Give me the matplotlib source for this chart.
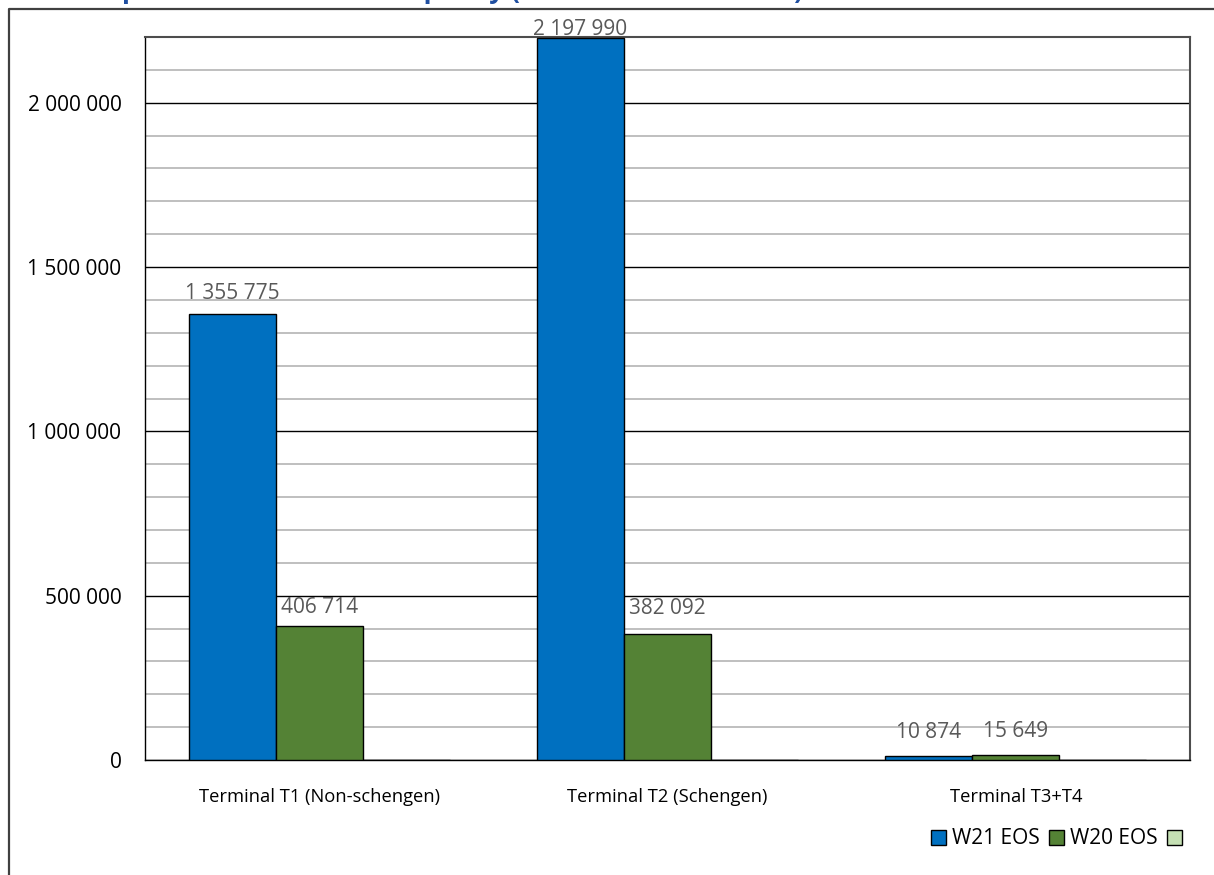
import matplotlib
matplotlib.use("Agg")
import matplotlib.pyplot as plt
import numpy as np
from matplotlib.patches import Patch
from matplotlib.lines import Line2D
from matplotlib.ticker import MultipleLocator, FuncFormatter

# ---- data -------------------------------------------------------------
categories = ["Terminal T1 (Non-schengen)", "Terminal T2 (Schengen)", "Terminal T3+T4"]
w21_eos = [1355775, 2197990, 10874]
w20_eos = [406714, 382092, 15649]
third_series = [0, 0, 0]
series_names = ["W21 EOS", "W20 EOS", ""]
title = "Comparison of total seat capacity (W21 EOS vs. W20 EOS)"

# ---- style ------------------------------------------------------------
colors = ["#0070C0", "#548235", "#C5E0B4"]
label_gap_px = [[15, 3, 18], [13, 20, 18]]   # label gap above each bar

plt.rcParams['font.family'] = ['Open Sans', 'DejaVu Sans']

W, H = 1214, 875
fig = plt.figure(figsize=(W / 100, H / 100), dpi=100)
ax = fig.add_axes([145 / W, 115 / H, 1045 / W, 723 / H])

x = np.arange(len(categories))
width = 0.25
all_series = [w21_eos, w20_eos, third_series]
for i, (vals, c) in enumerate(zip(all_series, colors)):
    bars = ax.bar(x + (i - 1) * width, vals, width, color=c,
                  edgecolor='black', linewidth=1, zorder=3)
    if i < 2:
        for j, (b, v) in enumerate(zip(bars, vals)):
            ax.annotate(f"{v:,}".replace(",", " "),
                        (b.get_x() + b.get_width() / 2, v),
                        xytext=(0, label_gap_px[i][j] * 0.72),
                        textcoords='offset points', ha='center', va='baseline',
                        fontsize=15, color='#595959', zorder=4)

ax.set_xlim(-0.5, len(categories) - 0.5)
ax.set_ylim(0, 2200000)
ax.yaxis.set_major_locator(MultipleLocator(500000))
ax.yaxis.set_minor_locator(MultipleLocator(100000))
ax.yaxis.set_major_formatter(FuncFormatter(lambda v, p: f"{int(v):,}".replace(",", " ")))
ax.grid(which='major', axis='y', color='black', linewidth=1.0, zorder=1)
ax.grid(which='minor', axis='y', color='#BFBFBF', linewidth=1.4, zorder=0)
ax.set_axisbelow(True)

ax.set_xticks(x)
ax.set_xticklabels(categories, fontsize=13.2)
ax.tick_params(axis='x', length=0, pad=20)
ax.tick_params(axis='y', which='both', length=0, pad=17, labelsize=15)

for side in ['left', 'bottom']:
    ax.spines[side].set_color('black')
    ax.spines[side].set_linewidth(1.0)
for side in ['top', 'right']:
    ax.spines[side].set_color('#4D4D4D')
    ax.spines[side].set_linewidth(1.5)

handles = [Patch(facecolor=c, edgecolor='black', linewidth=1) for c in colors]
fig.legend(handles, series_names, loc='center right',
           bbox_to_anchor=(1188 / W, 36 / H), ncol=3, frameon=False,
           fontsize=15, handlelength=0.7, handleheight=0.7,
           handletextpad=0.3, columnspacing=0.45, borderpad=0, borderaxespad=0)

# title sits above the visible area, only its lowest strokes show
fig.text(63 / W, 1 + 2.0 / H, title, color='#1F4EA0', fontweight='bold',
         fontsize=19, ha='left', va='baseline')

# outer chart border
fig.add_artist(Line2D([8.5 / W, 8.5 / W, 1], [0, 1 - 8.5 / H, 1 - 8.5 / H],
                      transform=fig.transFigure, color='#404040', linewidth=1.6))

fig.savefig('out.png', dpi=100)
